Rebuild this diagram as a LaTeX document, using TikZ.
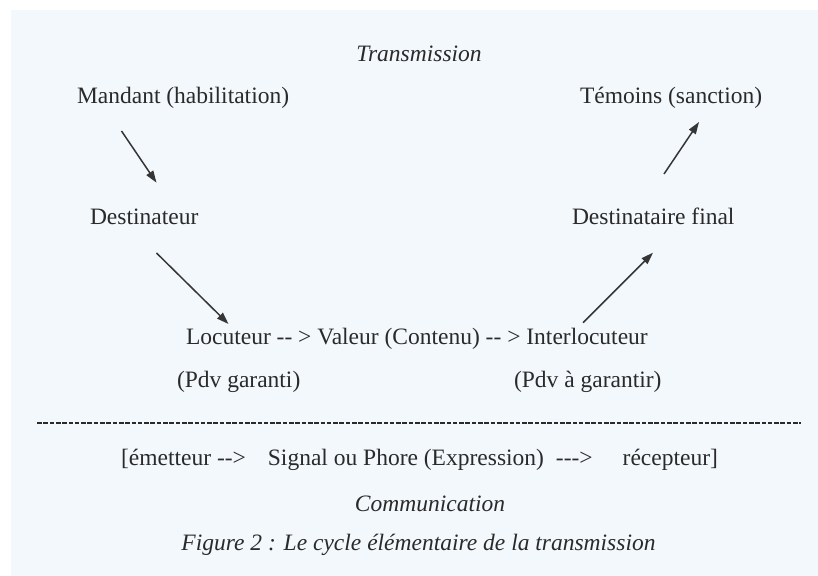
\documentclass[tikz,border=0pt]{standalone}
\usepackage{fontspec}
\setmainfont{Liberation Serif}
\usetikzlibrary{arrows.meta,calc}
\definecolor{bgblue}{HTML}{F3F8FC}
\definecolor{ink}{HTML}{2A2A2A}
\definecolor{arrowink}{HTML}{363636}
\begin{document}
\begin{tikzpicture}[x=0.5pt,y=-0.5pt,
  lbl/.style={inner sep=0pt, outer sep=0pt, text=ink, font=\fontsize{11.75}{14}\selectfont, anchor=base west},
  ilbl/.style={lbl, font=\fontsize{11.75}{14}\selectfont\itshape, anchor=base},
  clbl/.style={lbl, anchor=base},
  arr/.style={draw=arrowink, line width=0.75pt, -{Triangle[length=6pt,width=4pt]}},
  dashline/.style={draw=ink, line width=1pt, dash pattern=on 2.3pt off 0.85pt}]
\useasboundingbox (0,0) rectangle (818,576);
\fill[white] (0,0) rectangle (818,576);
\fill[bgblue] (11,10) rectangle (818,576);

\node[ilbl] (transmission) at (419,62) {Transmission};
\node[lbl] (mandant) at (77,104) {Mandant (habilitation)};
\node[lbl] (temoins) at (580,104) {Témoins (sanction)};
\node[lbl] (destinateur) at (90,225) {Destinateur};
\node[lbl] (destfinal) at (572,225) {Destinataire final};
\node[lbl] (locuteur) at (186,345) {Locuteur -{}- > Valeur (Contenu) -{}- > Interlocuteur};
\node[lbl] (pdvg) at (177,388) {(Pdv garanti)};
\node[lbl] (pdvag) at (514,388) {(Pdv à garantir)};

\coordinate (dashL) at (37,423);
\coordinate (dashR) at (801,423);
\draw[dashline] (dashL) -- (dashR);

\node[clbl] (emetteur) at (419.5,466) {[émetteur -{}->\hspace{11pt}Signal ou Phore (Expression)\hspace{6pt}-{}-{}->\hspace{15pt}récepteur]};
\node[ilbl] (communication) at (430,511) {Communication};
\node[ilbl] (caption) at (418.5,550) {Figure 2 : Le cycle élémentaire de la transmission};

\draw[arr] ($(mandant.base west)+(44.5,27)$) -- ($(destinateur.base west)+(66.5,-42.3)$);
\draw[arr] ($(destinateur.base west)+(66.5,28)$) -- ($(locuteur.base west)+(42.5,-21)$);
\draw[arr] ($(locuteur.base west)+(397,-22.3)$) -- ($(destfinal.base west)+(81,27.7)$);
\draw[arr] ($(destfinal.base west)+(92,-51)$) -- ($(temoins.base west)+(119,18)$);
\end{tikzpicture}
\end{document}
